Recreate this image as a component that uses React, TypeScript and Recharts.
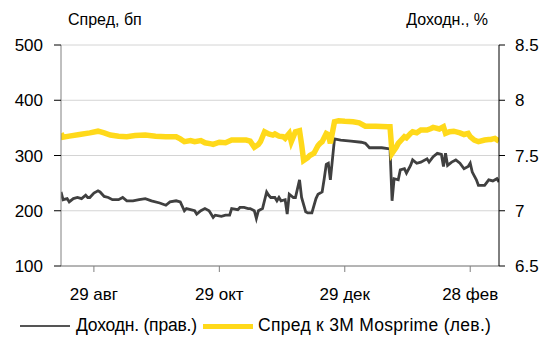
import { LineChart, Line, XAxis, YAxis, CartesianGrid, Legend } from 'recharts'

// day 0 = 13 авг
const tickDays = [16, 77, 138, 199]
const tickLabels = ['29 авг', '29 окт', '29 дек', '28 фев']

const spreadTicks = [100, 200, 300, 400, 500]
const yieldTicks = [6.5, 7, 7.5, 8, 8.5]

const spreadDays = [
  0, 1, 4, 9, 14, 18, 21, 24, 28, 32, 36, 41, 46, 51, 56, 58, 60, 63, 65, 68,
  70, 73, 74, 77, 80, 83, 87, 90, 92, 94, 96, 97, 99, 101, 103, 104, 106, 108, 109, 111,
  112, 114, 116, 117, 118, 120, 121, 123, 125, 126, 127, 129, 130, 131, 133, 135, 138, 142, 145, 148,
  153, 159, 160, 161, 163, 164, 165, 167, 168, 170, 171, 173, 175, 178, 180, 181, 184, 186, 187, 189,
  191, 194, 196, 198, 199, 201, 203, 206, 208, 209, 211, 213,
]
const spreadValues = [
  340, 333, 335, 338, 341, 344, 341, 337, 335, 334, 336, 337, 335, 334, 334, 330, 325, 327, 325, 327,
  323, 321, 320, 324, 323, 328, 328, 328, 326, 315, 320, 325, 343, 339, 337, 339, 335, 334, 331, 340,
  325, 343, 345, 320, 291, 296, 300, 304, 318, 322, 325, 340, 338, 322, 361, 363, 362, 361, 359, 353,
  353, 352, 352, 304, 315, 322, 326, 334, 332, 340, 343, 341, 346, 346, 349, 351, 348, 352, 340, 343,
  344, 341, 338, 340, 334, 328, 325, 328, 329, 329, 331, 326,
]

const yieldDays = [
  0, 1, 3, 4, 6, 8, 10, 12, 13, 14, 16, 18, 19, 21, 23, 25, 28, 30, 32, 35,
  38, 41, 44, 48, 51, 53, 56, 58, 60, 61, 63, 65, 66, 68, 70, 72, 73, 74, 75, 78,
  80, 82, 83, 86, 87, 89, 91, 92, 94, 95, 96, 98, 100, 101, 102, 104, 105, 106, 107, 109,
  110, 111, 113, 114, 116, 117, 119, 120, 122, 124, 125, 127, 128, 129, 130, 131, 133, 136, 141, 146,
  148, 150, 156, 160, 161, 162, 164, 165, 167, 168, 170, 171, 173, 175, 178, 179, 181, 183, 185, 186,
  187, 188, 190, 192, 194, 196, 198, 199, 200, 202, 203, 206, 208, 210, 212, 213,
]
const yieldValues = [
  7.17, 7.1, 7.11, 7.08, 7.11, 7.12, 7.11, 7.14, 7.12, 7.12, 7.16, 7.18, 7.17, 7.13, 7.12, 7.1, 7.1, 7.12, 7.09, 7.09,
  7.1, 7.11, 7.09, 7.07, 7.05, 7.08, 7.09, 7.08, 7.0, 7.02, 7.01, 7.0, 6.97, 7.0, 7.02, 7.0, 6.97, 6.94, 6.96, 6.95,
  6.96, 6.96, 7.02, 7.01, 7.03, 7.03, 7.02, 7.02, 7.0, 6.93, 7.0, 7.02, 7.17, 7.14, 7.12, 7.12, 7.09, 7.12, 7.09, 7.1,
  6.97, 7.15, 7.12, 7.12, 7.28, 7.12, 6.99, 6.98, 6.98, 7.11, 7.15, 7.17, 7.29, 7.42, 7.43, 7.28, 7.65, 7.64, 7.63, 7.62,
  7.61, 7.57, 7.57, 7.56, 7.09, 7.29, 7.28, 7.37, 7.38, 7.34, 7.41, 7.46, 7.43, 7.44, 7.47, 7.44, 7.49, 7.52, 7.51, 7.4,
  7.52, 7.41, 7.44, 7.46, 7.43, 7.38, 7.4, 7.43, 7.35, 7.28, 7.23, 7.23, 7.28, 7.27, 7.29, 7.26,
]

const spreadData = spreadDays.map((day, i) => ({ day, spread: spreadValues[i] }))
const yieldData = yieldDays.map((day, i) => ({ day, yld: yieldValues[i] }))

const font = '"Liberation Sans", Arial, sans-serif'
const yellow = '#FFD91A'
const dark = '#404040'

function LegendBox() {
  return (
    <div style={{ position: 'relative', height: 24, fontFamily: font, fontSize: 17.5, color: '#000' }}>
      <div style={{ position: 'absolute', left: 20, top: 11, width: 50, height: 2, background: '#555' }} />
      <span style={{ position: 'absolute', left: 76, top: 1, whiteSpace: 'nowrap', letterSpacing: -0.2 }}>Доходн. (прав.)</span>
      <div style={{ position: 'absolute', left: 203, top: 10, width: 50, height: 5, background: yellow }} />
      <span style={{ position: 'absolute', left: 258, top: 1, whiteSpace: 'nowrap', letterSpacing: 0.3 }}>Спред к 3M Mosprime (лев.)</span>
    </div>
  )
}

export default function App() {
  return (
    <div style={{ position: 'absolute', left: 0, top: 0, width: 555, height: 338, background: '#fff', fontFamily: font }}>
      <div style={{ position: 'absolute', left: 68, top: 11, fontSize: 16 }}>Спред, бп</div>
      <div style={{ position: 'absolute', right: 67, top: 11, fontSize: 16 }}>Доходн., %</div>
      <LineChart width={555} height={338} margin={{ top: 45, right: 0, bottom: 0, left: 0 }}>
        <CartesianGrid yAxisId="left" vertical={false} stroke="#d4d4d4" />
        <XAxis
          dataKey="day"
          type="number"
          domain={[0, 213]}
          ticks={tickDays}
          tickFormatter={(v: number) => tickLabels[tickDays.indexOf(v)] ?? ''}
          allowDataOverflow
          height={48}
          tickSize={6}
          tickMargin={16}
          axisLine={{ stroke: '#808080' }}
          tickLine={{ stroke: '#808080' }}
          tick={{ fill: '#000', fontSize: 17, fontFamily: font }}
        />
        <YAxis
          yAxisId="left"
          domain={[100, 500]}
          ticks={spreadTicks}
          width={61}
          tickSize={7}
          tickMargin={11}
          axisLine={{ stroke: '#808080' }}
          tickLine={{ stroke: '#000' }}
          tick={{ fill: '#000', fontSize: 17, fontFamily: font }}
        />
        <YAxis
          yAxisId="right"
          orientation="right"
          domain={[6.5, 8.5]}
          ticks={yieldTicks}
          width={56}
          tickSize={6}
          tickMargin={10}
          axisLine={{ stroke: '#000' }}
          tickLine={{ stroke: '#000' }}
          tick={{ fill: '#000', fontSize: 17, fontFamily: font }}
        />
        <Legend verticalAlign="bottom" height={24} content={() => <LegendBox />} />
        <Line
          yAxisId="right"
          data={yieldData}
          dataKey="yld"
          type="linear"
          stroke={dark}
          strokeWidth={2.8}
          dot={false}
          isAnimationActive={false}
        />
        <Line
          yAxisId="left"
          data={spreadData}
          dataKey="spread"
          type="linear"
          stroke={yellow}
          strokeWidth={5.5}
          dot={false}
          isAnimationActive={false}
        />
      </LineChart>
    </div>
  )
}
